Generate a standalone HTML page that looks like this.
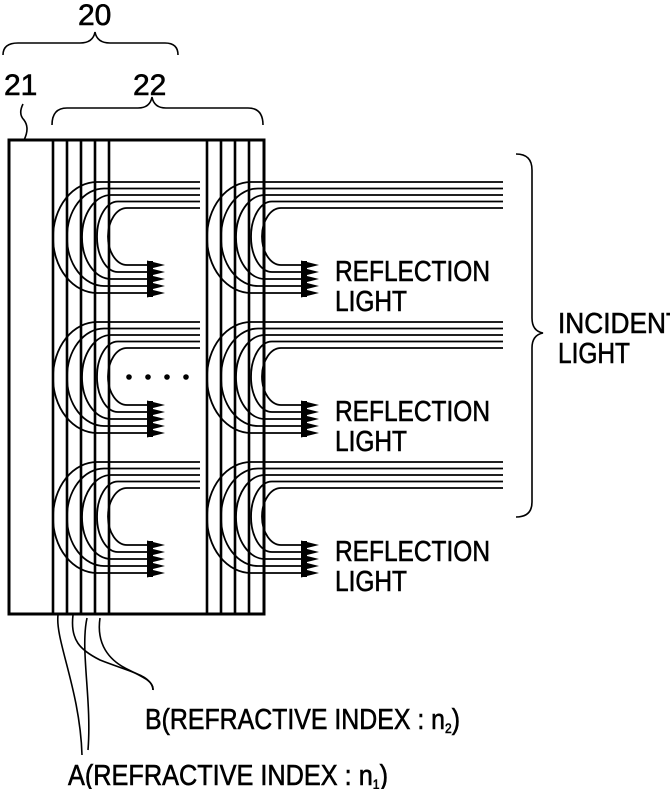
<!DOCTYPE html>
<html><head><meta charset="utf-8"><style>
html,body{margin:0;padding:0;background:#fff;width:670px;height:789px;overflow:hidden}
svg{display:block}
text{font-family:"Liberation Sans",sans-serif;fill:#000;stroke:#000;stroke-width:0.6}
</style></head><body>
<svg id="s" width="670" height="789" viewBox="0 0 670 789" xmlns="http://www.w3.org/2000/svg">
<g fill="none" stroke="#000" stroke-width="1.6">
<path d="M3,55 Q3,43 18,43 L80,43 Q93,43 95,32 Q97,43 110,43 L165,43 Q178,43 178,55"/>
<path d="M52,125 Q52,108 67,108 L138,108 Q150,108 152,97 Q154,108 166,108 L248,108 Q263,108 263,125"/>
<path d="M23,104 Q18,114 24,120 Q30,128 24,140"/>
<path d="M516,154 Q532,154 532,170 L532,318 Q532,331 543,333 Q532,335 532,348 L532,502 Q532,517 516,517"/>
<path d="M58,615 C55,640 80,690 82,755"/>
<path d="M87,618 C80,650 92,700 88,750"/>
<path d="M73,615 C70,640 80,650 100,660 C130,672 152,675 153,690"/>
<path d="M100,618 C96,645 110,660 125,668 C145,678 154,682 153,690"/>
</g>
<g id="g" stroke="#000" fill="none"></g>
<g fill="#000">
<circle cx="129" cy="377" r="2.8"/><circle cx="148" cy="377" r="2.8"/><circle cx="167" cy="377" r="2.8"/><circle cx="186" cy="377" r="2.8"/>
</g>
<g font-size="29" lengthAdjust="spacingAndGlyphs">
<text x="78" y="25" font-size="30">20</text>
<text x="4" y="95" font-size="30">21</text>
<text x="133" y="95" font-size="30">22</text>
<text x="335" y="281" textLength="155" lengthAdjust="spacingAndGlyphs">REFLECTION</text>
<text x="335" y="311" textLength="72" lengthAdjust="spacingAndGlyphs">LIGHT</text>
<text x="335" y="421" textLength="155" lengthAdjust="spacingAndGlyphs">REFLECTION</text>
<text x="335" y="451" textLength="72" lengthAdjust="spacingAndGlyphs">LIGHT</text>
<text x="335" y="561" textLength="155" lengthAdjust="spacingAndGlyphs">REFLECTION</text>
<text x="335" y="591" textLength="72" lengthAdjust="spacingAndGlyphs">LIGHT</text>
<text x="558" y="333" textLength="124" lengthAdjust="spacingAndGlyphs">INCIDENT</text>
<text x="558" y="363" textLength="72" lengthAdjust="spacingAndGlyphs">LIGHT</text>
<text x="145" y="729" textLength="315" lengthAdjust="spacingAndGlyphs">B(REFRACTIVE INDEX : n<tspan font-size="14" dy="4">2</tspan><tspan dy="-4">)</tspan></text>
<text x="68" y="785" textLength="320" lengthAdjust="spacingAndGlyphs">A(REFRACTIVE INDEX : n<tspan font-size="14" dy="4">1</tspan><tspan dy="-4">)</tspan></text>
</g>
</svg>
<script>
var g=document.getElementById('g'),h='';
h+='<rect x="9" y="140" width="255" height="474" stroke-width="3"/>';
[53,67,81,95,109,207,221,235,249].forEach(function(x){h+='<line x1="'+x+'" y1="140" x2="'+x+'" y2="614" stroke-width="2.6"/>';});
var L=[53,67,82,97,108],C=[97,104,111,118,127];
for(var b=0;b<3;b++)for(var o=0;o<2;o++){
 var dx=o*154,dy=b*140,xe=o?503:200;
 for(var i=0;i<5;i++){
  var yt=182+6.5*i+dy,yb=293-7*i+dy,cx=C[i]+dx,rx=C[i]-L[i],ry=(yb-yt)/2;
  h+='<path stroke-width="1.8" d="M'+xe+','+yt+' H'+cx+' A'+rx+' '+ry+' 0 0 0 '+cx+' '+yb+' H'+(149+dx)+'"/>';
  h+='<polygon fill="#000" stroke="none" points="'+(147+dx)+','+(yb-4.5)+' '+(165+dx)+','+yb+' '+(147+dx)+','+(yb+4.5)+'"/>';
 }
 h+='<rect fill="#000" stroke="none" x="'+(147+dx)+'" y="'+(261+dy)+'" width="6" height="36"/>';
}
g.innerHTML=h;
</script>
</body></html>
